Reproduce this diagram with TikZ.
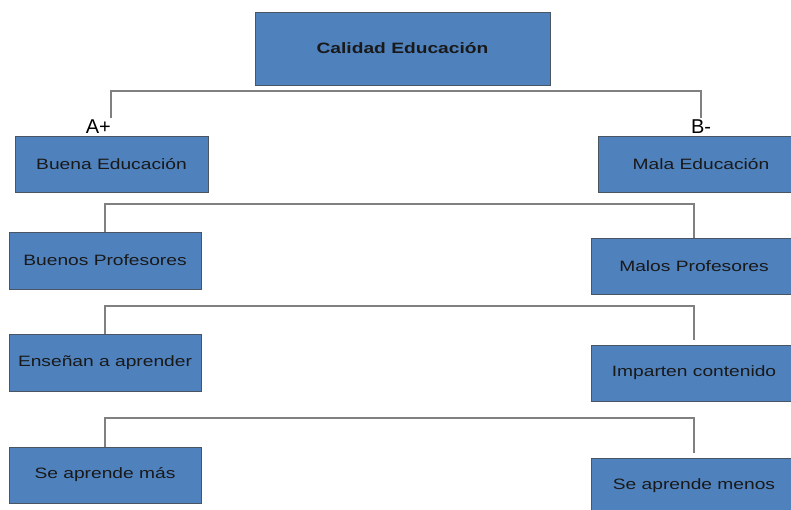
\documentclass[tikz,border=0pt]{standalone}
\usepackage{fontspec}
\usepackage{tikz}
\usepackage{xcolor}
\setmainfont{Liberation Sans}
\newfontfamily\boxfont[FakeStretch=1.28]{Liberation Sans}
\definecolor{boxblue}{HTML}{4F81BD}
\definecolor{boxedge}{HTML}{4A5563}
\definecolor{linkgray}{HTML}{808080}

\begin{document}
\begin{tikzpicture}[x=1pt, y=1pt,
    box/.style={rectangle, fill=boxblue, draw=boxedge, line width=0.9pt,
                inner sep=0pt, font=\boxfont\fontsize{15}{18}\selectfont, text=black!90},
    link/.style={draw=linkgray, line width=1.2pt},
    grade/.style={inner sep=0pt, font=\fontsize{20}{22}\selectfont}]
    % page size
    \useasboundingbox (0,0) rectangle (791,510);

    % Top box
    \node[box, minimum width=295, minimum height=73, font=\boxfont\bfseries\fontsize{15}{18}\selectfont]
        (calidad) at (402.5,461.5) {Calidad Educación};

    % Level 1
    \node[box, minimum width=193, minimum height=56] (buena) at (111.5,346) {Buena Educación};
    \node[box, minimum width=206, minimum height=56] (mala) at (701,346) {Mala Educación};

    % Level 2
    \node[box, minimum width=192, minimum height=57] (buenos) at (105,249.5) {Buenos Profesores};
    \node[box, minimum width=206, minimum height=56] (malos) at (694,244) {Malos Profesores};

    % Level 3
    \node[box, minimum width=192, minimum height=57] (ensenan) at (105,147.5) {Enseñan a aprender};
    \node[box, minimum width=206, minimum height=56] (imparten) at (694,137) {Imparten contenido};

    % Level 4
    \node[box, minimum width=192, minimum height=56] (mas) at (105,35) {Se aprende más};
    \node[box, minimum width=206, minimum height=56] (menos) at (694,24) {Se aprende menos};

    % Bar heights
    \coordinate (bar1) at (0,419);
    \coordinate (bar2) at (0,306);
    \coordinate (bar3) at (0,204);
    \coordinate (bar4) at (0,92);

    % Free ends above the level 1 boxes
    \coordinate (aplus) at (111,392);
    \coordinate (bminus) at (701,392);

    % Connectors
    \draw[link] (aplus) -- (aplus |- bar1) -| (bminus);
    \draw[link] (buenos.north) -- (buenos.north |- bar2) -| (malos.north);
    \draw[link] (ensenan.north) -- (ensenan.north |- bar3) -| ([yshift=5pt]imparten.north);
    \draw[link] (mas.north) -- (mas.north |- bar4) -| ([yshift=5pt]menos.north);

    % Grade labels
    \node[grade, anchor=north east] (alabel) at ([yshift=-2pt]aplus) {A+};
    \node[grade, anchor=north] (blabel) at ([yshift=-2pt]bminus) {B-};
\end{tikzpicture}
\end{document}
